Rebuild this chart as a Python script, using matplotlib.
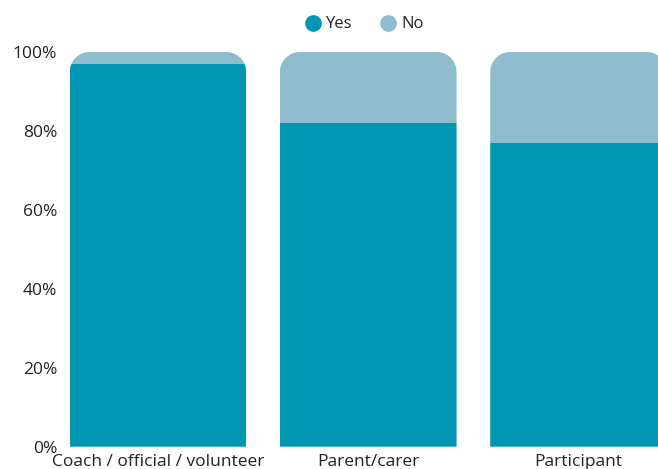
import numpy as np
import matplotlib.pyplot as plt
from matplotlib.path import Path
from matplotlib.patches import PathPatch
from matplotlib.lines import Line2D

plt.rcParams['font.family'] = ['Open Sans', 'DejaVu Sans']

categories = ['Coach / official / volunteer', 'Parent/carer', 'Participant']
yes_pct = [97, 82, 77]
no_pct = [3, 18, 23]
yticks = [0, 20, 40, 60, 80, 100]

YES_COLOR = '#0097b2'
NO_COLOR = '#8fbccc'
TEXT_COLOR = '#222222'

W, H = 658, 469
fig = plt.figure(figsize=(W / 100, H / 100), dpi=100)
ax = fig.add_axes([60 / W, (H - 446.7) / H, (W - 60) / W, (446.7 - 52) / H])

x = np.arange(len(categories))
width = 0.84
ax.set_xlim(-0.466, 2.378)
ax.set_ylim(0, 100)

# corner radius of the rounded tops, in data units (x and y scales differ)
rx = 20 / 210.25
ry = 20 / 3.947
k = 0.5523


def rounded_top(x0, x1, top):
    verts = [
        (x0, 0), (x0, top - ry),
        (x0, top - ry + k * ry), (x0 + rx - k * rx, top), (x0 + rx, top),
        (x1 - rx, top),
        (x1 - rx + k * rx, top), (x1, top - ry + k * ry), (x1, top - ry),
        (x1, 0), (x0, 0),
    ]
    codes = [Path.MOVETO, Path.LINETO,
             Path.CURVE4, Path.CURVE4, Path.CURVE4,
             Path.LINETO,
             Path.CURVE4, Path.CURVE4, Path.CURVE4,
             Path.LINETO, Path.CLOSEPOLY]
    return Path(verts, codes)


yes_bars = ax.bar(x, yes_pct, width, color=YES_COLOR, linewidth=0)
no_bars = ax.bar(x, no_pct, width, bottom=yes_pct, color=NO_COLOR, linewidth=0)

for i in range(len(categories)):
    total = yes_pct[i] + no_pct[i]
    clip = PathPatch(rounded_top(x[i] - width / 2, x[i] + width / 2, total),
                     transform=ax.transData, facecolor='none', edgecolor='none')
    yes_bars[i].set_clip_path(clip)
    no_bars[i].set_clip_path(clip)

ax.set_yticks(yticks)
ax.set_yticklabels([f'{t}%' for t in yticks])
ax.set_xticks(x)
ax.set_xticklabels(categories)
ax.tick_params(axis='y', length=0, pad=2, labelsize=12.5, labelcolor=TEXT_COLOR)
ax.tick_params(axis='x', length=0, pad=5, labelsize=12.5, labelcolor=TEXT_COLOR)
for s in ax.spines.values():
    s.set_visible(False)

handles = [
    Line2D([], [], marker='o', linestyle='none', markersize=12,
           markerfacecolor=YES_COLOR, markeredgecolor='none', label='Yes'),
    Line2D([], [], marker='o', linestyle='none', markersize=12,
           markerfacecolor=NO_COLOR, markeredgecolor='none', label='No'),
]
fig.legend(handles=handles, loc='center', bbox_to_anchor=(364 / W, 1 - 24.5 / H),
           ncol=2, frameon=False, fontsize=12, handletextpad=0.3,
           columnspacing=1.6, handlelength=1.0, labelcolor=TEXT_COLOR)

fig.savefig('out.png', dpi=100)
